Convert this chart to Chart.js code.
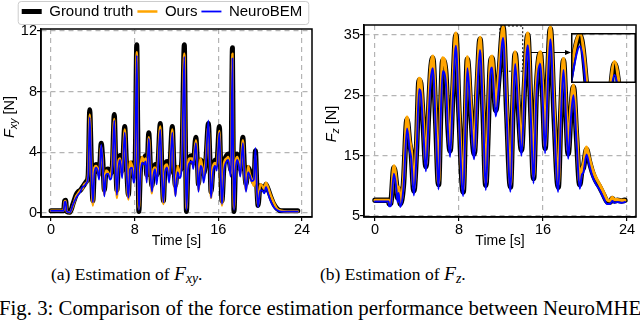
<!DOCTYPE html>
<html>
<head>
<meta charset="utf-8">
<script src="https://cdn.jsdelivr.net/npm/chart.js@4.4.0/dist/chart.umd.min.js"></script>
<style>
  html, body { margin: 0; padding: 0; background: #fff; }
  body { width: 640px; height: 320px; position: relative; overflow: hidden; }
  canvas { position: absolute; }
  #chart-fxy { left: 0; top: 0; }
  #chart-fz { left: 320px; top: 0; }
  #chart-inset { left: 571px; top: 33px; }
  .cap { position: absolute; font-family: "Liberation Serif", "Times New Roman", serif; white-space: nowrap; color: #000; }
  .cap i { font-style: italic; font-size: 112%; }
  .cap sub { font-size: 70%; vertical-align: -0.25em; }
  #cap-a { left: 51px; top: 263px; font-size: 17.5px; }
  #cap-b { left: 320px; top: 263px; font-size: 17.5px; }
  #cap-fig { left: -1px; top: 296px; font-size: 20.8px; }
</style>
</head>
<body>
<canvas id="chart-fxy" width="320" height="250"></canvas>
<canvas id="chart-fz" width="320" height="250"></canvas>
<canvas id="chart-inset" width="65" height="50"></canvas>
<div class="cap" id="cap-a">(a) Estimation of <i>F</i><sub><i>xy</i></sub>.</div>
<div class="cap" id="cap-b">(b) Estimation of <i>F</i><sub><i>z</i></sub>.</div>
<div class="cap" id="cap-fig">Fig. 3: Comparison of the force estimation performance between NeuroMHE</div>
<script>
// series names + tick values
const seriesNames = ["Ground truth", "Ours", "NeuroBEM"];
const xTicks = [0, 8, 16, 24];
const yTicksXY = [0, 4, 8, 12];
const yTicksZ = [5, 15, 25, 35];

// F_xy [N] over time [s]
const tXY = [
  0, 0.6, 1.2, 1.3, 1.4, 1.5, 1.8, 2.1, 2.4, 2.6,
  2.8, 3.0, 3.2, 3.4, 3.55, 3.7, 3.85, 4.0, 4.15, 4.3,
  4.45, 4.6, 4.8, 4.95, 5.1, 5.25, 5.45, 5.65, 5.85, 6.05,
  6.2, 6.3, 6.45, 6.6, 6.8, 7.05, 7.2, 7.4, 7.55, 7.75,
  7.9, 8.05, 8.2, 8.3, 8.4, 8.55, 8.7, 8.9, 9.05, 9.15,
  9.35, 9.5, 9.65, 9.8, 9.95, 10.1, 10.2, 10.45, 10.6, 10.75,
  10.9, 11.1, 11.3, 11.6, 11.75, 11.9, 12.1, 12.3, 12.5, 12.75,
  12.85, 12.95, 13.1, 13.25, 13.5, 13.6, 13.85, 14.0, 14.1, 14.3,
  14.45, 14.6, 14.8, 15.05, 15.2, 15.3, 15.5, 15.7, 15.85, 16.1,
  16.25, 16.35, 16.55, 16.8, 16.95, 17.1, 17.2, 17.35, 17.42, 17.5,
  17.65, 17.8, 17.95, 18.1, 18.35, 18.5, 18.65, 18.85, 19.0, 19.2,
  19.4, 19.55, 19.7, 19.8, 20.0, 20.2, 20.4, 20.55, 20.75, 21.0,
  21.3, 21.6, 22.0, 22.6, 23.2, 23.6
];
const gtXY = [
  0.15, 0.15, 0.15, 0.8, 0.85, 0.1, 0.05, 0.6, 1.2, 1.4,
  1.5, 1.7, 1.9, 2.1, 2.5, 6.8, 3.5, 0.8, 2.9, 3.2,
  3.1, 2.6, 4.6, 3.5, 1.5, 2.7, 2.9, 2.6, 3.0, 6.5,
  3.0, 1.5, 3.3, 3.8, 2.8, 5.7, 3.5, 1.2, 3.2, 3.3,
  2.4, 3.5, 11.1, 5.0, 0.1, 2.8, 3.6, 3.6, 3.8, 2.5,
  5.3, 3.2, 1.8, 2.8, 3.2, 2.5, 2.8, 5.9, 3.0, 0.8,
  3.0, 3.4, 2.6, 5.7, 3.2, 1.8, 3.0, 2.8, 3.4, 11.1,
  5.0, 0.1, 3.0, 3.7, 3.8, 3.3, 5.0, 3.3, 1.9, 3.5,
  3.3, 2.6, 3.4, 5.9, 3.5, 1.4, 3.0, 3.5, 3.3, 5.7,
  2.5, 0.8, 3.2, 3.8, 3.9, 3.2, 2.8, 10.9, 4.5, 0.1,
  3.2, 3.9, 3.6, 2.9, 5.0, 3.0, 1.9, 3.0, 2.8, 2.4,
  2.0, 4.1, 1.5, 0.5, 1.8, 1.7, 1.5, 1.9, 1.6, 1.1,
  0.6, 0.3, 0.15, 0.15, 0.15, 0.15
];
const oursXY = [
  0.15, 0.15, 0.15, 0.75, 0.8, 0.1, 0.05, 0.5, 1.1, 1.3,
  1.5, 1.6, 1.9, 2.0, 2.6, 6.5, 3.2, 0.5, 3.0, 3.1,
  2.9, 2.4, 4.4, 3.2, 1.2, 2.8, 2.7, 2.4, 3.2, 6.2,
  2.7, 1.0, 3.4, 3.6, 2.5, 5.5, 3.3, 0.9, 3.4, 3.1,
  2.2, 3.6, 10.6, 4.6, 0.3, 2.6, 3.7, 3.4, 3.6, 2.2,
  5.0, 3.0, 1.3, 2.9, 3.0, 2.2, 3.0, 5.7, 2.7, 0.6,
  3.1, 3.2, 2.3, 5.5, 2.9, 1.2, 3.1, 2.6, 3.5, 10.5,
  4.6, 0.3, 3.1, 3.6, 3.6, 3.1, 4.8, 3.0, 1.5, 3.6,
  3.1, 2.3, 3.5, 5.7, 3.2, 1.0, 3.1, 3.3, 3.1, 5.4,
  2.2, 0.5, 3.3, 3.6, 3.7, 3.0, 2.6, 10.5, 4.2, 0.3,
  3.3, 3.7, 3.4, 2.6, 4.8, 2.7, 1.5, 3.1, 2.6, 2.2,
  1.8, 3.8, 1.2, 0.5, 1.9, 1.8, 1.6, 2.0, 1.7, 1.2,
  0.7, 0.3, 0.15, 0.1, 0.1, 0.1
];
const neuroXY = [
  0.15, 0.15, 0.15, 0.7, 0.75, 0.1, 0.05, 0.55, 1.0, 1.2,
  1.4, 1.7, 1.8, 2.0, 2.4, 6.3, 3.0, 0.7, 2.6, 3.0,
  2.8, 2.2, 4.5, 3.0, 1.1, 2.5, 2.6, 2.2, 2.8, 6.1,
  2.6, 1.2, 3.0, 3.5, 2.3, 5.3, 3.1, 1.0, 2.9, 3.0,
  2.0, 3.3, 10.4, 4.4, 0.2, 2.5, 3.3, 3.2, 3.4, 2.0,
  4.9, 2.8, 1.4, 2.5, 2.9, 1.9, 2.6, 5.5, 2.5, 0.7,
  2.7, 3.0, 2.0, 5.3, 2.8, 1.1, 2.7, 2.3, 3.1, 10.3,
  4.3, 0.2, 2.8, 3.3, 3.4, 2.9, 4.6, 2.9, 1.4, 3.1,
  2.9, 2.0, 3.1, 6.1, 3.0, 1.0, 2.7, 3.1, 2.8, 5.3,
  2.1, 0.6, 2.8, 3.4, 3.5, 2.8, 2.4, 10.2, 4.1, 0.2,
  2.8, 3.5, 3.2, 2.4, 4.6, 2.6, 1.4, 2.7, 2.5, 2.1,
  2.2, 4.3, 1.3, 0.4, 1.5, 1.5, 1.3, 1.7, 1.3, 0.8,
  0.4, 0.2, 0.1, 0.1, 0.1, 0.1
];

// F_z [N] over time [s]
const tZ = [
  0, 0.5, 1.0, 1.3, 1.35, 1.5, 1.8, 2.05, 2.15, 2.25,
  2.4, 2.7, 3.05, 3.3, 3.45, 3.7, 3.95, 4.2, 4.35, 4.6,
  4.85, 5.1, 5.3, 5.5, 5.8, 6.05, 6.25, 6.45, 6.75, 6.95,
  7.15, 7.4, 7.7, 8.0, 8.4, 8.6, 8.8, 9.1, 9.45, 9.75,
  10.0, 10.3, 10.55, 10.75, 10.95, 11.15, 11.5, 11.8, 12.2, 12.55,
  12.9, 13.15, 13.35, 13.65, 13.95, 14.25, 14.55, 14.85, 15.1, 15.35,
  15.55, 15.75, 16.0, 16.2, 16.45, 16.7, 17.05, 17.45, 17.7, 17.95,
  18.2, 18.4, 18.65, 18.9, 19.2, 19.5, 19.7, 19.85, 20.15, 20.4,
  20.7, 21.0, 21.4, 21.8, 22.1, 22.4, 22.6, 22.8, 23.1, 23.5,
  23.8
];
const gtZ = [
  7.6, 7.6, 7.6, 7.6, 7.0, 7.1, 13.0, 10.0, 8.0, 9.5,
  7.0, 10.0, 21.0, 17.0, 15.5, 9.2, 16.0, 27.5, 27.0, 20.0,
  13.2, 22.0, 29.0, 31.2, 20.0, 10.2, 22.0, 30.8, 28.5, 20.0,
  15.8, 25.0, 35.0, 22.0, 9.0, 20.0, 31.0, 23.0, 15.3, 27.0,
  34.3, 22.0, 10.1, 18.0, 29.0, 31.2, 22.5, 28.0, 36.2, 22.0,
  9.8, 24.0, 31.9, 23.0, 15.9, 27.0, 35.0, 22.0, 11.2, 25.0,
  30.5, 31.9, 24.0, 16.2, 28.0, 36.0, 22.0, 9.8, 22.0, 30.8,
  22.0, 15.3, 22.0, 26.4, 18.0, 10.2, 12.5, 13.0, 16.0, 14.2,
  12.3, 11.0, 9.8, 8.4, 7.4, 7.3, 7.9, 7.5, 7.6, 7.5,
  7.6
];
const oursZ = [
  7.6, 7.6, 7.6, 7.6, 7.1, 7.2, 13.3, 10.3, 8.3, 9.8,
  7.2, 10.5, 21.4, 17.5, 16.0, 9.6, 16.8, 27.8, 27.4, 20.8,
  13.6, 22.8, 29.5, 31.5, 21.0, 10.5, 23.0, 31.2, 28.9, 21.0,
  16.2, 26.0, 35.3, 23.0, 9.4, 21.0, 31.4, 24.0, 15.8, 28.0,
  34.6, 23.0, 10.5, 19.0, 29.6, 31.5, 23.2, 28.8, 36.4, 23.0,
  10.2, 25.0, 32.2, 24.0, 16.3, 28.0, 35.3, 23.0, 11.6, 26.0,
  30.9, 32.2, 25.0, 16.6, 29.0, 36.3, 23.0, 10.2, 23.0, 31.1,
  23.0, 15.8, 23.0, 26.7, 19.0, 10.6, 12.9, 13.5, 16.4, 14.7,
  12.8, 11.5, 10.2, 8.8, 7.7, 7.5, 8.1, 7.7, 7.7, 7.6,
  7.6
];
const neuroZ = [
  7.4, 7.4, 7.4, 7.4, 6.6, 6.7, 12.0, 9.2, 7.3, 8.8,
  6.5, 9.4, 19.5, 16.0, 14.5, 8.4, 15.0, 26.0, 25.5, 19.0,
  12.4, 21.0, 27.5, 29.5, 19.0, 9.4, 21.0, 29.0, 27.0, 19.0,
  14.8, 24.0, 33.2, 21.0, 8.3, 19.0, 29.5, 22.0, 14.4, 26.0,
  32.5, 21.0, 9.3, 17.0, 27.5, 29.6, 21.5, 26.5, 34.5, 21.0,
  9.0, 23.0, 30.2, 22.0, 15.0, 26.0, 33.3, 21.0, 10.4, 24.0,
  29.0, 30.2, 23.0, 15.4, 26.5, 34.3, 21.0, 9.0, 21.0, 29.2,
  21.0, 14.5, 21.0, 25.0, 17.0, 9.5, 11.8, 12.2, 15.2, 13.5,
  11.6, 10.4, 9.3, 7.9, 7.0, 7.0, 7.5, 7.2, 7.3, 7.2,
  7.3
];

const FONT = '"Liberation Sans", Arial, sans-serif';
Chart.defaults.font.family = FONT;
Chart.defaults.color = "#000";

function points(ts, vs) {
  return ts.map((t, i) => ({ x: t, y: vs[i] }));
}

function makeDatasets(ts, gt, ours, neuro, widths) {
  const common = {
    pointRadius: 0,
    fill: false,
    cubicInterpolationMode: "monotone",
    borderJoinStyle: "round",
    borderCapStyle: "round",
  };
  return [
    { ...common, label: seriesNames[0], data: points(ts, gt), borderColor: "#000000", borderWidth: widths[0], order: 3 },
    { ...common, label: seriesNames[1], data: points(ts, ours), borderColor: "#ffa500", borderWidth: widths[1], order: 2 },
    { ...common, label: seriesNames[2], data: points(ts, neuro), borderColor: "#0000ff", borderWidth: widths[2], order: 1 },
  ];
}

function axis(min, max, ticks, size) {
  return {
    type: "linear",
    min: min,
    max: max,
    afterBuildTicks: (a) => {
      a.ticks = ticks.map((v) => ({ value: v }));
    },
    afterFit: (s) => {
      if (s.isHorizontal()) s.height = size;
      else s.width = size;
    },
    grid: {
      color: "#b4b4b4",
      lineWidth: 1.2,
      tickColor: "#000",
      tickLength: 4,
      tickWidth: 1.2,
      tickBorderDash: [],
    },
    border: { display: true, color: "#000", width: 1.5, dash: [5, 4] },
    ticks: {
      color: "#000",
      padding: 0,
      font: { size: 14.5, family: FONT },
    },
  };
}

// box round the plot area
const framePlugin = {
  id: "frame",
  afterDatasetsDraw(chart, args, opts) {
    const a = chart.chartArea;
    const lw = opts.width || 1.5;
    const c = chart.ctx;
    c.save();
    c.strokeStyle = "#000";
    c.lineWidth = lw;
    const off = opts.inside ? lw / 2 : 0;
    c.strokeRect(a.left + off, a.top + off, a.right - a.left - 2 * off, a.bottom - a.top - 2 * off);
    c.restore();
  },
};

// y title with an italic symbol and subscript, e.g. F_xy [N]
const yTitlePlugin = {
  id: "yTitle",
  afterDraw(chart, args, opts) {
    if (!opts.main) return;
    const c = chart.ctx;
    const a = chart.chartArea;
    const big = "italic 14.5px " + FONT;
    const small = "italic 10.5px " + FONT;
    const norm = "14.5px " + FONT;
    c.save();
    c.font = big;
    const w1 = c.measureText(opts.main).width;
    c.font = small;
    const w2 = c.measureText(opts.sub).width;
    c.font = norm;
    const w3 = c.measureText(opts.unit).width;
    const total = w1 + w2 + w3;
    c.translate(opts.x, (a.top + a.bottom) / 2 + (opts.shift || 0));
    c.rotate(-Math.PI / 2);
    c.fillStyle = "#000";
    c.textBaseline = "middle";
    c.textAlign = "left";
    let x = -total / 2;
    c.font = big;
    c.fillText(opts.main, x, 0);
    x += w1;
    c.font = small;
    c.fillText(opts.sub, x, 4);
    x += w2;
    c.font = norm;
    c.fillText(opts.unit, x, 0);
    c.restore();
  },
};

// grey rounded box behind the legend
const legendBoxPlugin = {
  id: "legendBox",
  beforeDraw(chart, args, opts) {
    const lg = chart.legend;
    if (!opts.show || !lg || !lg.legendHitBoxes || !lg.legendHitBoxes.length) return;
    const hb = lg.legendHitBoxes;
    const left = Math.min(...hb.map((h) => h.left)) - 4;
    const right = Math.max(...hb.map((h) => h.left + h.width)) + 6;
    const c = chart.ctx;
    c.save();
    c.strokeStyle = "#cccccc";
    c.lineWidth = 1;
    c.beginPath();
    c.roundRect(left + 0.5, 1.5, right - left, 23, 3);
    c.stroke();
    c.restore();
  },
};

// dotted zoom window + arrow to the inset
const zoomMarkPlugin = {
  id: "zoomMark",
  beforeDatasetsDraw(chart, args, opts) {
    if (!opts.show) return;
    const xs = chart.scales.x;
    const ys = chart.scales.y;
    const x1 = xs.getPixelForValue(opts.t0);
    const x2 = xs.getPixelForValue(opts.t1);
    const y1 = ys.getPixelForValue(opts.v1);
    const y2 = ys.getPixelForValue(opts.v0);
    const ya = ys.getPixelForValue(opts.arrowV);
    const c = chart.ctx;
    c.save();
    c.strokeStyle = "#000";
    c.lineWidth = 1;
    c.setLineDash([2, 2]);
    c.strokeRect(x1, y1, x2 - x1, y2 - y1);
    c.setLineDash([]);
    c.beginPath();
    c.moveTo(x2, ya);
    c.lineTo(opts.arrowX - 4, ya);
    c.stroke();
    c.beginPath();
    c.moveTo(opts.arrowX, ya);
    c.lineTo(opts.arrowX - 6, ya - 2.5);
    c.lineTo(opts.arrowX - 6, ya + 2.5);
    c.closePath();
    c.fillStyle = "#000";
    c.fill();
    c.restore();
  },
};

Chart.register(framePlugin, yTitlePlugin, legendBoxPlugin, zoomMarkPlugin);

// F_xy panel
new Chart(document.getElementById("chart-fxy").getContext("2d"), {
  type: "line",
  data: { datasets: makeDatasets(tXY, gtXY, oursXY, neuroXY, [5, 2.5, 1.8]) },
  options: {
    responsive: false,
    animation: false,
    layout: { padding: { left: 12, right: 8, top: 0, bottom: 0 } },
    plugins: {
      tooltip: { enabled: false },
      legend: {
        display: true,
        position: "top",
        labels: {
          usePointStyle: true,
          pointStyle: "line",
          pointStyleWidth: 20,
          padding: 4,
          color: "#000",
          font: { size: 15, lineHeight: 1.0, family: FONT },
          sort: (a, b) => a.datasetIndex - b.datasetIndex,
        },
      },
      legendBox: { show: true },
      yTitle: { main: "F", sub: "xy", unit: " [N]", x: 10, shift: -6 },
    },
    scales: {
      x: {
        ...axis(-0.96, 24.96, xTicks, 33),
        title: { display: true, text: "Time [s]", padding: 0, font: { size: 14, family: FONT } },
      },
      y: axis(-0.26, 12.13, yTicksXY, 29),
    },
  },
});

// F_z panel
new Chart(document.getElementById("chart-fz").getContext("2d"), {
  type: "line",
  data: { datasets: makeDatasets(tZ, gtZ, oursZ, neuroZ, [5.5, 3.2, 2]) },
  options: {
    responsive: false,
    animation: false,
    layout: { padding: { left: 15, right: 4, top: 25, bottom: 0 } },
    plugins: {
      tooltip: { enabled: false },
      legend: { display: false },
      yTitle: { main: "F", sub: "z", unit: " [N]", x: 12, shift: 3 },
      zoomMark: { show: true, t0: 11.9, t1: 14.07, v0: 29, v1: 36.5, arrowV: 32.1, arrowX: 251 },
    },
    scales: {
      x: {
        ...axis(-1.05, 24.86, xTicks, 33),
        title: { display: true, text: "Time [s]", padding: 0, font: { size: 14, family: FONT } },
      },
      y: axis(4.83, 36.66, yTicksZ, 29),
    },
  },
});

// zoomed inset of the F_z peaks
new Chart(document.getElementById("chart-inset").getContext("2d"), {
  type: "line",
  data: { datasets: makeDatasets(tZ, gtZ, oursZ, neuroZ, [5.5, 3.2, 2]) },
  options: {
    responsive: false,
    animation: false,
    layout: { padding: 0 },
    plugins: {
      tooltip: { enabled: false },
      legend: { display: false },
      frame: { width: 1.5, inside: true },
    },
    scales: {
      x: { type: "linear", display: false, min: 11.9, max: 14.07 },
      y: { type: "linear", display: false, min: 29, max: 36.5 },
    },
  },
});
</script>
</body>
</html>
